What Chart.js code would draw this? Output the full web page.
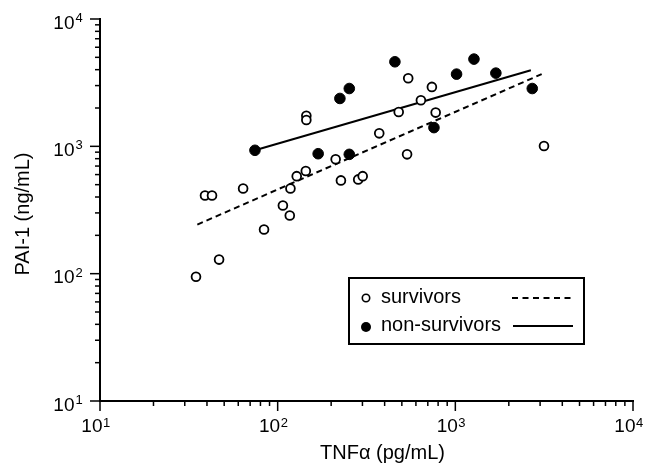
<!DOCTYPE html>
<html>
<head>
<meta charset="utf-8">
<title>PAI-1 vs TNFα</title>
<script src="https://cdn.jsdelivr.net/npm/chart.js@4.4.1/dist/chart.umd.min.js"></script>
<style>
  html, body { margin: 0; padding: 0; background: #fff; }
  #wrap { width: 650px; height: 466px; }
</style>
</head>
<body>
<div id="wrap"><canvas id="paiChart" width="650" height="466"></canvas></div>
<script>
// TNFα (pg/mL) and PAI-1 (ng/mL)
const survivorTnf = [34.7, 39, 42.7, 46.8, 63.9, 83.8, 107, 117, 118, 128, 144, 145, 145, 212, 227, 284, 301, 373, 480, 535, 543, 640, 738, 775, 3155];
const survivorPai = [94.7, 411, 411, 129, 467, 222, 343, 286, 467, 583, 640, 1735, 1611, 791, 540, 550, 583, 1265, 1862, 865, 3428, 2301, 2930, 1841, 1007];

const nonSurvivorTnf = [74.5, 169, 224, 253, 253, 457, 758, 1016, 1273, 1691, 2710];
const nonSurvivorPai = [931, 875, 2377, 865, 2845, 4613, 1403, 3690, 4843, 3758, 2845];

// regression lines (end points)
const survivorFitTnf = [35.3, 3062];
const survivorFitPai = [243, 3690];
const nonSurvivorFitTnf = [74.5, 2662];
const nonSurvivorFitPai = [931, 3963];

// axes
const majorTicks = [10, 100, 1000, 10000];
const tickBase = '10';
const tickExponents = ['1', '2', '3', '4'];
const minorSteps = [2, 3, 4, 5, 6, 7, 8, 9];
const xTitle = 'TNFα (pg/mL)';
const yTitle = 'PAI-1 (ng/mL)';
const legendLabels = ['survivors', 'non-survivors'];

const toPoints = (xs, ys) => xs.map((v, i) => ({ x: v, y: ys[i] }));

const INK = '#000';
const FONT = '"Liberation Sans", Arial, Helvetica, sans-serif';

// ticks, tick labels, axis titles and the boxed legend
const paperAxes = {
  id: 'paperAxes',
  afterDraw(chart) {
    const { ctx, chartArea: area, scales: { x, y } } = chart;
    ctx.save();
    ctx.strokeStyle = INK;
    ctx.fillStyle = INK;
    ctx.lineWidth = 1.5;

    const drawTick = (axis, value, len) => {
      const p = axis.getPixelForValue(value);
      ctx.beginPath();
      if (axis === x) {
        ctx.moveTo(p, area.bottom);
        ctx.lineTo(p, area.bottom + len);
      } else {
        ctx.moveTo(area.left, p);
        ctx.lineTo(area.left - len, p);
      }
      ctx.stroke();
    };

    [x, y].forEach((axis) => {
      majorTicks.forEach((v, i) => {
        drawTick(axis, v, 10);
        if (i < majorTicks.length - 1) {
          minorSteps.forEach((m) => drawTick(axis, v * m, 5));
        }
      });
    });

    // tick labels: 10 with a raised exponent
    majorTicks.forEach((v, i) => {
      const px = x.getPixelForValue(v);
      ctx.font = '19px ' + FONT;
      ctx.textBaseline = 'alphabetic';
      ctx.textAlign = 'right';
      ctx.fillText(tickBase, px + 2.5, area.bottom + 31);
      ctx.font = '13px ' + FONT;
      ctx.textAlign = 'left';
      ctx.fillText(tickExponents[i], px + 3, area.bottom + 26);

      const py = y.getPixelForValue(v);
      ctx.font = '19px ' + FONT;
      ctx.textAlign = 'right';
      ctx.fillText(tickBase, area.left - 25.5, py + 9.5);
      ctx.font = '13px ' + FONT;
      ctx.textAlign = 'left';
      ctx.fillText(tickExponents[i], area.left - 24.5, py + 3);
    });

    // axis titles
    ctx.font = '20px ' + FONT;
    ctx.textAlign = 'center';
    ctx.textBaseline = 'alphabetic';
    ctx.fillText(xTitle, (area.left + area.right) / 2 + 16, area.bottom + 58);
    ctx.save();
    ctx.translate(29, (area.top + area.bottom) / 2 + 4);
    ctx.rotate(-Math.PI / 2);
    ctx.fillText(yTitle, 0, 0);
    ctx.restore();

    // legend box
    const lx = area.left + 249;
    const ly = area.top + 259;
    ctx.lineWidth = 2;
    ctx.strokeRect(lx, ly, 235, 66);

    const rows = [ly + 20, ly + 48];
    ctx.lineWidth = 1.6;
    ctx.beginPath();
    ctx.arc(lx + 17, rows[0], 3.7, 0, Math.PI * 2);
    ctx.stroke();
    ctx.beginPath();
    ctx.arc(lx + 17, rows[1] + 1, 5, 0, Math.PI * 2);
    ctx.fill();

    ctx.font = '20px ' + FONT;
    ctx.textAlign = 'left';
    ctx.fillText(legendLabels[0], lx + 32, rows[0] + 5);
    ctx.fillText(legendLabels[1], lx + 32, rows[1] + 5);

    ctx.lineWidth = 2;
    ctx.setLineDash([6, 4.5]);
    ctx.beginPath();
    ctx.moveTo(lx + 163, rows[0]);
    ctx.lineTo(lx + 225, rows[0]);
    ctx.stroke();
    ctx.setLineDash([]);
    ctx.beginPath();
    ctx.moveTo(lx + 164, rows[1]);
    ctx.lineTo(lx + 224, rows[1]);
    ctx.stroke();

    ctx.restore();
  }
};

const logAxis = (fitSize) => ({
  type: 'logarithmic',
  min: 10,
  max: 10000,
  ticks: { display: false },
  grid: { display: true, drawOnChartArea: false, drawTicks: false },
  border: { display: true, color: INK, width: 2 },
  afterFit: fitSize
});

new Chart(document.getElementById('paiChart').getContext('2d'), {
  type: 'scatter',
  data: {
    datasets: [
      {
        label: legendLabels[1],
        data: toPoints(nonSurvivorTnf, nonSurvivorPai),
        pointRadius: 5.3,
        pointBackgroundColor: INK,
        pointBorderColor: INK,
        pointBorderWidth: 1
      },
      {
        label: legendLabels[0],
        data: toPoints(survivorTnf, survivorPai),
        pointRadius: 4.4,
        pointBackgroundColor: '#fff',
        pointBorderColor: INK,
        pointBorderWidth: 1.8
      },
      {
        label: legendLabels[1] + ' fit',
        data: toPoints(nonSurvivorFitTnf, nonSurvivorFitPai),
        showLine: true,
        pointRadius: 0,
        borderColor: INK,
        borderWidth: 2
      },
      {
        label: legendLabels[0] + ' fit',
        data: toPoints(survivorFitTnf, survivorFitPai),
        showLine: true,
        pointRadius: 0,
        borderColor: INK,
        borderWidth: 2,
        borderDash: [6, 4]
      }
    ]
  },
  options: {
    responsive: false,
    animation: false,
    layout: { padding: { top: 19, right: 17, left: 0, bottom: 0 } },
    scales: {
      x: logAxis((scale) => { scale.height = 65; }),
      y: logAxis((scale) => { scale.width = 100; })
    },
    plugins: {
      legend: { display: false },
      tooltip: { enabled: false }
    }
  },
  plugins: [paperAxes]
});
</script>
</body>
</html>
